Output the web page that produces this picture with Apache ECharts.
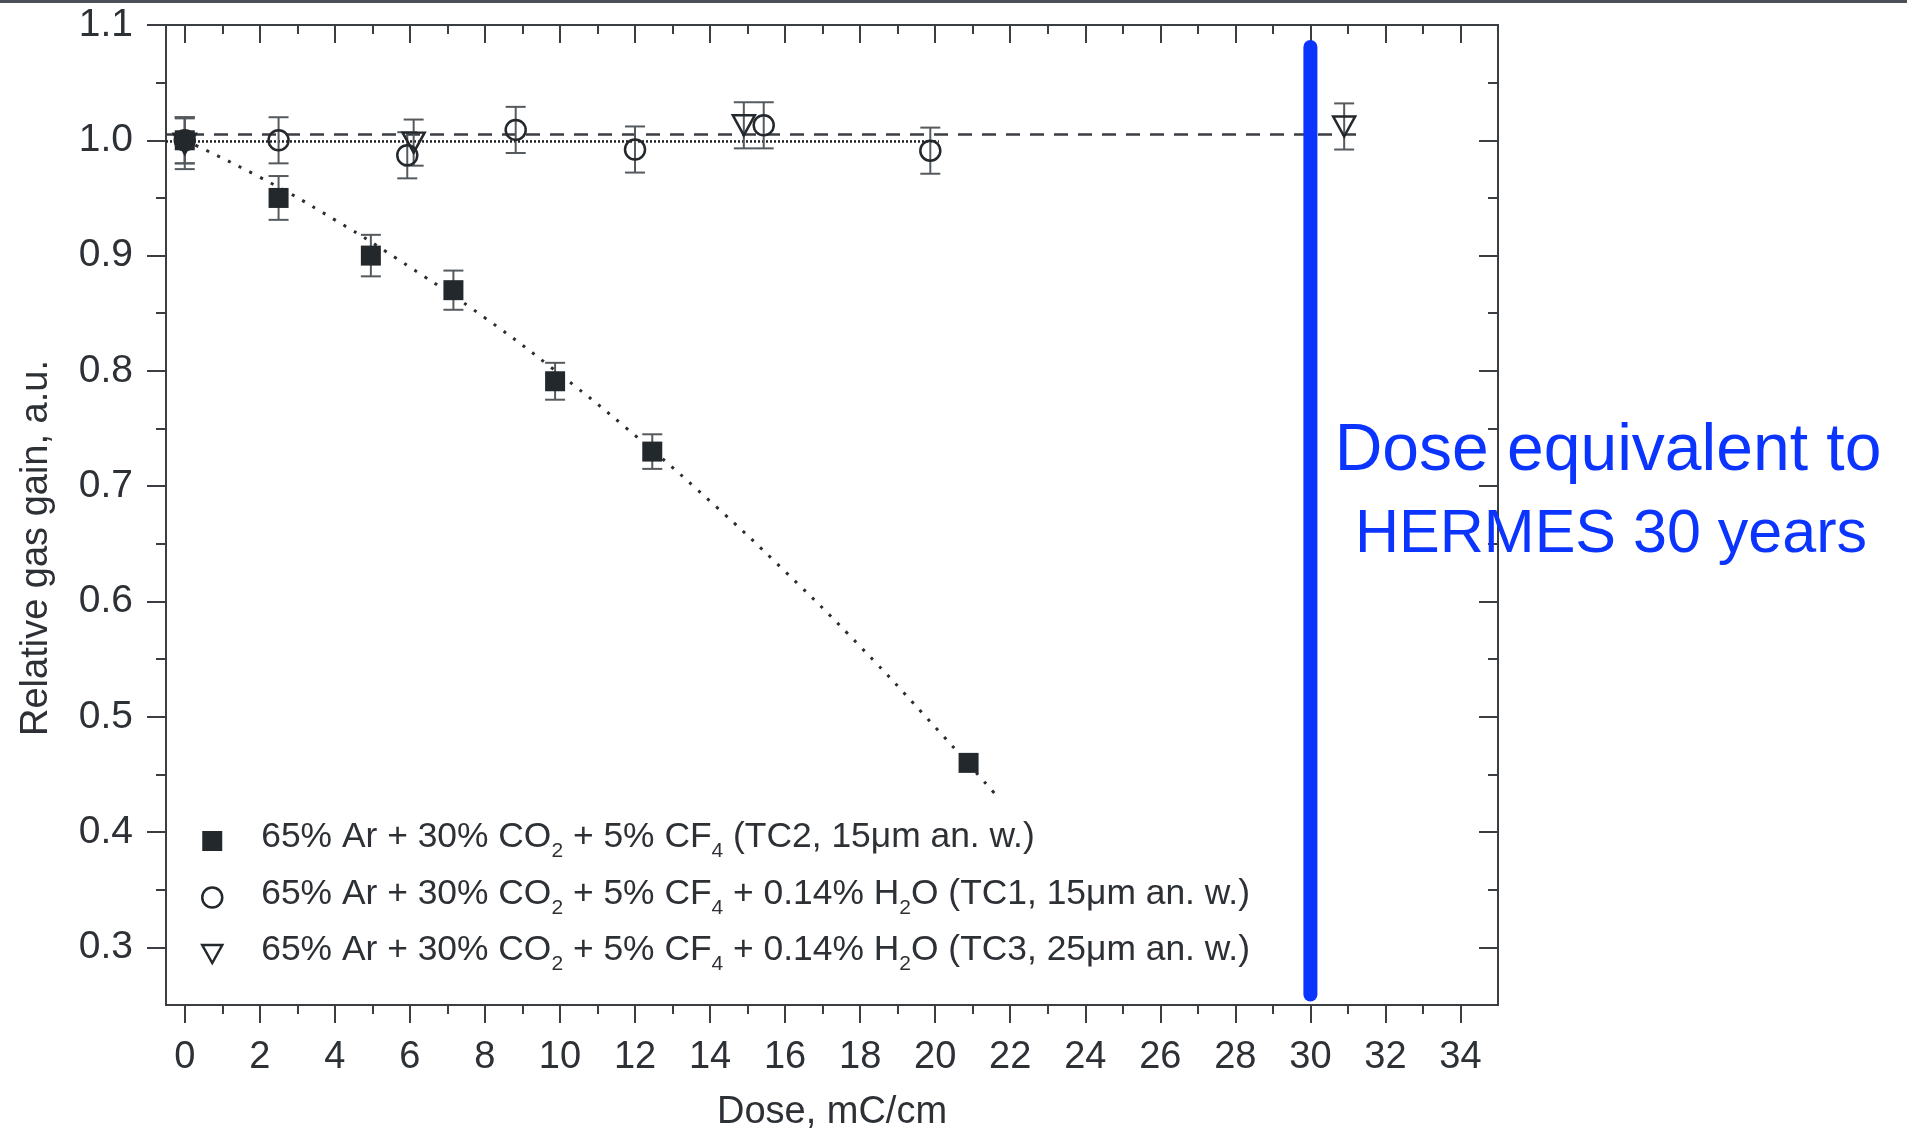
<!DOCTYPE html>
<html>
<head>
<meta charset="utf-8">
<script src="https://cdn.jsdelivr.net/npm/echarts@6/dist/echarts.min.js"></script>
<style>
html,body{margin:0;padding:0;background:#fff;}
#chart{width:1907px;height:1131px;}
</style>
</head>
<body>
<div id="chart"></div>
<script>
// ---- data ----
const xMajorTicks = [0,2,4,6,8,10,12,14,16,18,20,22,24,26,28,30,32,34];
const xMinorTicks = [1,3,5,7,9,11,13,15,17,19,21,23,25,27,29,31,33];
const yMajorTicks = [0.3,0.4,0.5,0.6,0.7,0.8,0.9,1.0,1.1];
const yMinorTicks = [0.35,0.45,0.55,0.65,0.75,0.85,0.95,1.05];

const seriesNames = [
  '65% Ar + 30% CO2 + 5% CF4 (TC2, 15μm an. w.)',
  '65% Ar + 30% CO2 + 5% CF4 + 0.14% H2O (TC1, 15μm an. w.)',
  '65% Ar + 30% CO2 + 5% CF4 + 0.14% H2O (TC3, 25μm an. w.)'
];
const legendRich = [
  '{n|65% Ar + 30% CO}{s|2}{n| + 5% CF}{s|4}{n| (TC2, 15μm an. w.)}',
  '{n|65% Ar + 30% CO}{s|2}{n| + 5% CF}{s|4}{n| + 0.14% H}{s|2}{n|O (TC1, 15μm an. w.)}',
  '{n|65% Ar + 30% CO}{s|2}{n| + 5% CF}{s|4}{n| + 0.14% H}{s|2}{n|O (TC3, 25μm an. w.)}'
];

// TC2 (filled squares)
const tc2X   = [0, 2.5, 4.96, 7.16, 9.87, 12.46, 20.89];
const tc2Y   = [1.0, 0.950, 0.900, 0.870, 0.791, 0.730, 0.460];
const tc2Err = [0.020, 0.019, 0.018, 0.017, 0.016, 0.015, 0];
// TC1 (open circles)
const tc1X   = [0, 2.5, 5.93, 8.82, 12.0, 15.43, 19.87];
const tc1Y   = [1.0, 1.0, 0.987, 1.009, 0.992, 1.013, 0.991];
const tc1Err = [0.020, 0.020, 0.020, 0.020, 0.020, 0.020, 0.020];
// TC3 (open down-triangles)
const tc3X   = [0, 6.1, 14.9, 30.9];
const tc3Y   = [0.997, 0.998, 1.013, 1.012];
const tc3Err = [0.022, 0.020, 0.020, 0.020];

// fit lines
const fitTC2X = [0, 2, 4, 6, 8, 10, 12, 14, 16, 18, 20, 21.65];
const fitTC2Y = [1.0, 0.968, 0.931, 0.890, 0.846, 0.797, 0.744, 0.687, 0.626, 0.561, 0.491, 0.431];
const fitTC1X = [-0.5, 20.1];
const fitTC1Y = [0.999, 0.999];
const fitTC3X = [-0.5, 31.3];
const fitTC3Y = [1.005, 1.005];

// HERMES 30-year dose marker
const hermesX = [30, 30];
const hermesY = [0.259, 1.081];

// ---- chart ----
const zip = (xs, ys) => xs.map((x, i) => [x, ys[i]]);
const errData = (xs, ys, es) => xs.map((x, i) => [x, ys[i] - es[i], ys[i] + es[i]]).filter((d, i) => es[i] > 0);

const AX = '#3a3d42';
const TXT = '#2d3136';
const MK = '#23282d';
const FONT = '"Liberation Sans", Arial, sans-serif';
const triPath = 'path://M0,0L20,0L10,18Z';

function errRender(params, api) {
  const x = api.value(0), lo = api.value(1), hi = api.value(2);
  const t = api.coord([x, hi]), b = api.coord([x, lo]);
  const hw = 10;
  const st = {stroke: '#555a5f', lineWidth: 2};
  return {type: 'group', children: [
    {type: 'line', shape: {x1: t[0], y1: t[1], x2: b[0], y2: b[1]}, style: st},
    {type: 'line', shape: {x1: t[0] - hw, y1: t[1], x2: t[0] + hw, y2: t[1]}, style: st},
    {type: 'line', shape: {x1: b[0] - hw, y1: b[1], x2: b[0] + hw, y2: b[1]}, style: st}
  ]};
}

function xAx(pos, ticks, len, inside, labels, extra) {
  return Object.assign({
    type: 'value', position: pos, min: -0.5, max: 35,
    axisLine: {show: true, onZero: false, lineStyle: {color: AX, width: 2}},
    axisTick: {show: true, inside: inside, length: len, customValues: ticks, lineStyle: {color: AX, width: 2}},
    axisLabel: labels ? {show: true, customValues: ticks, margin: 34, fontSize: 38, fontFamily: FONT, color: TXT} : {show: false},
    splitLine: {show: false}
  }, extra || {});
}
function yAx(pos, ticks, len, inside, labels, extra) {
  return Object.assign({
    type: 'value', position: pos, min: 0.25, max: 1.1,
    axisLine: {show: true, onZero: false, lineStyle: {color: AX, width: 2}},
    axisTick: {show: true, inside: inside, length: len, customValues: ticks, lineStyle: {color: AX, width: 2}},
    axisLabel: labels ? {show: true, customValues: ticks, margin: 33, fontSize: 39, fontFamily: FONT, color: TXT,
      formatter: v => v.toFixed(1)} : {show: false},
    splitLine: {show: false}
  }, extra || {});
}

const chart = echarts.init(document.getElementById('chart'), null, {renderer: 'canvas'});
chart.setOption({
  backgroundColor: '#ffffff',
  animation: false,
  grid: {left: 166, right: 409, top: 25, bottom: 126, containLabel: false, outerBoundsMode: 'none'},
  xAxis: [
    xAx('bottom', xMajorTicks, 18, false, true, {
      name: 'Dose, mC/cm', nameLocation: 'middle', nameGap: 89,
      nameTextStyle: {fontSize: 38, fontFamily: FONT, color: TXT}
    }),
    xAx('bottom', xMinorTicks, 9, false, false),
    xAx('top', xMajorTicks, 18, true, false),
    xAx('top', xMinorTicks, 9, true, false)
  ],
  yAxis: [
    yAx('left', yMajorTicks, 19, false, true, {
      name: 'Relative gas gain, a.u.', nameLocation: 'middle', nameGap: 110,
      nameTextStyle: {fontSize: 38, fontFamily: FONT, color: TXT, padding: [0, 66, 0, 0]}
    }),
    yAx('left', yMinorTicks, 10, false, false),
    yAx('right', yMajorTicks, 19, true, false),
    yAx('right', yMinorTicks, 10, true, false)
  ],
  legend: {
    orient: 'vertical', left: 196, top: 815, itemGap: 14.5,
    itemWidth: 20, itemHeight: 20,
    data: [
      {name: seriesNames[0], icon: 'rect', itemStyle: {color: MK, borderWidth: 0}},
      {name: seriesNames[1], icon: 'circle', itemStyle: {color: 'rgba(0,0,0,0)', borderColor: MK, borderWidth: 2.5}},
      {name: seriesNames[2], icon: triPath, itemStyle: {color: 'rgba(0,0,0,0)', borderColor: MK, borderWidth: 2.5}}
    ],
    formatter: name => legendRich[seriesNames.indexOf(name)],
    textStyle: {
      color: TXT, fontFamily: FONT, padding: [0, 0, 0, 34],
      rich: {
        n: {fontSize: 35.4, lineHeight: 42, verticalAlign: 'top', fontFamily: FONT, color: TXT},
        s: {fontSize: 21, lineHeight: 14, verticalAlign: 'top', padding: [21, 0, 0, 0], fontFamily: FONT, color: TXT}
      }
    }
  },
  series: [
    {type: 'line', name: 'fitTC3', data: zip(fitTC3X, fitTC3Y), showSymbol: false, silent: true,
      lineStyle: {color: '#3a3d42', width: 2.5, type: [14, 10]}, z: 2},
    {type: 'line', name: 'fitTC1', data: zip(fitTC1X, fitTC1Y), showSymbol: false, silent: true,
      lineStyle: {color: '#1e2125', width: 2.5, type: [2, 2]}, z: 2},
    {type: 'line', name: 'fitTC2', data: zip(fitTC2X, fitTC2Y), showSymbol: false, smooth: true, silent: true,
      lineStyle: {color: '#2a2d31', width: 3, type: [3, 9]}, z: 2},
    {type: 'custom', name: 'errTC2', renderItem: errRender, data: errData(tc2X, tc2Y, tc2Err), encode: {x: 0, y: [1, 2]}, z: 3},
    {type: 'custom', name: 'errTC1', renderItem: errRender, data: errData(tc1X, tc1Y, tc1Err), encode: {x: 0, y: [1, 2]}, z: 3},
    {type: 'custom', name: 'errTC3', renderItem: errRender, data: errData(tc3X, tc3Y, tc3Err), encode: {x: 0, y: [1, 2]}, z: 3},
    {type: 'scatter', name: seriesNames[0], data: zip(tc2X, tc2Y), symbol: 'rect', symbolSize: 20,
      itemStyle: {color: MK, opacity: 1}, z: 4},
    {type: 'scatter', name: seriesNames[1], data: zip(tc1X, tc1Y), symbol: 'circle', symbolSize: 20,
      itemStyle: {color: 'rgba(0,0,0,0)', borderColor: MK, borderWidth: 2.5, opacity: 1}, z: 5},
    {type: 'scatter', name: seriesNames[2], data: zip(tc3X, tc3Y), symbol: triPath, symbolSize: [22, 20],
      itemStyle: {color: 'rgba(0,0,0,0)', borderColor: MK, borderWidth: 2.5, opacity: 1}, z: 5},
    {type: 'line', name: 'HERMES', data: zip(hermesX, hermesY), showSymbol: false, silent: true,
      lineStyle: {color: '#0b34ff', width: 14, cap: 'round'}, z: 6}
  ],
  graphic: [
    {type: 'rect', left: 0, top: 0, shape: {width: 1907, height: 3}, style: {fill: '#4b5059'}},
    {type: 'text', x: 1608, y: 452, z: 100, style: {text: 'Dose equivalent to', textAlign: 'center', textVerticalAlign: 'middle',
      font: '66px "Liberation Sans", Arial, sans-serif', fill: '#0b34ff'}},
    {type: 'text', x: 1611, y: 535, z: 100, style: {text: 'HERMES 30 years', textAlign: 'center', textVerticalAlign: 'middle',
      font: '61px "Liberation Sans", Arial, sans-serif', fill: '#0b34ff'}}
  ]
});
</script>
</body>
</html>
